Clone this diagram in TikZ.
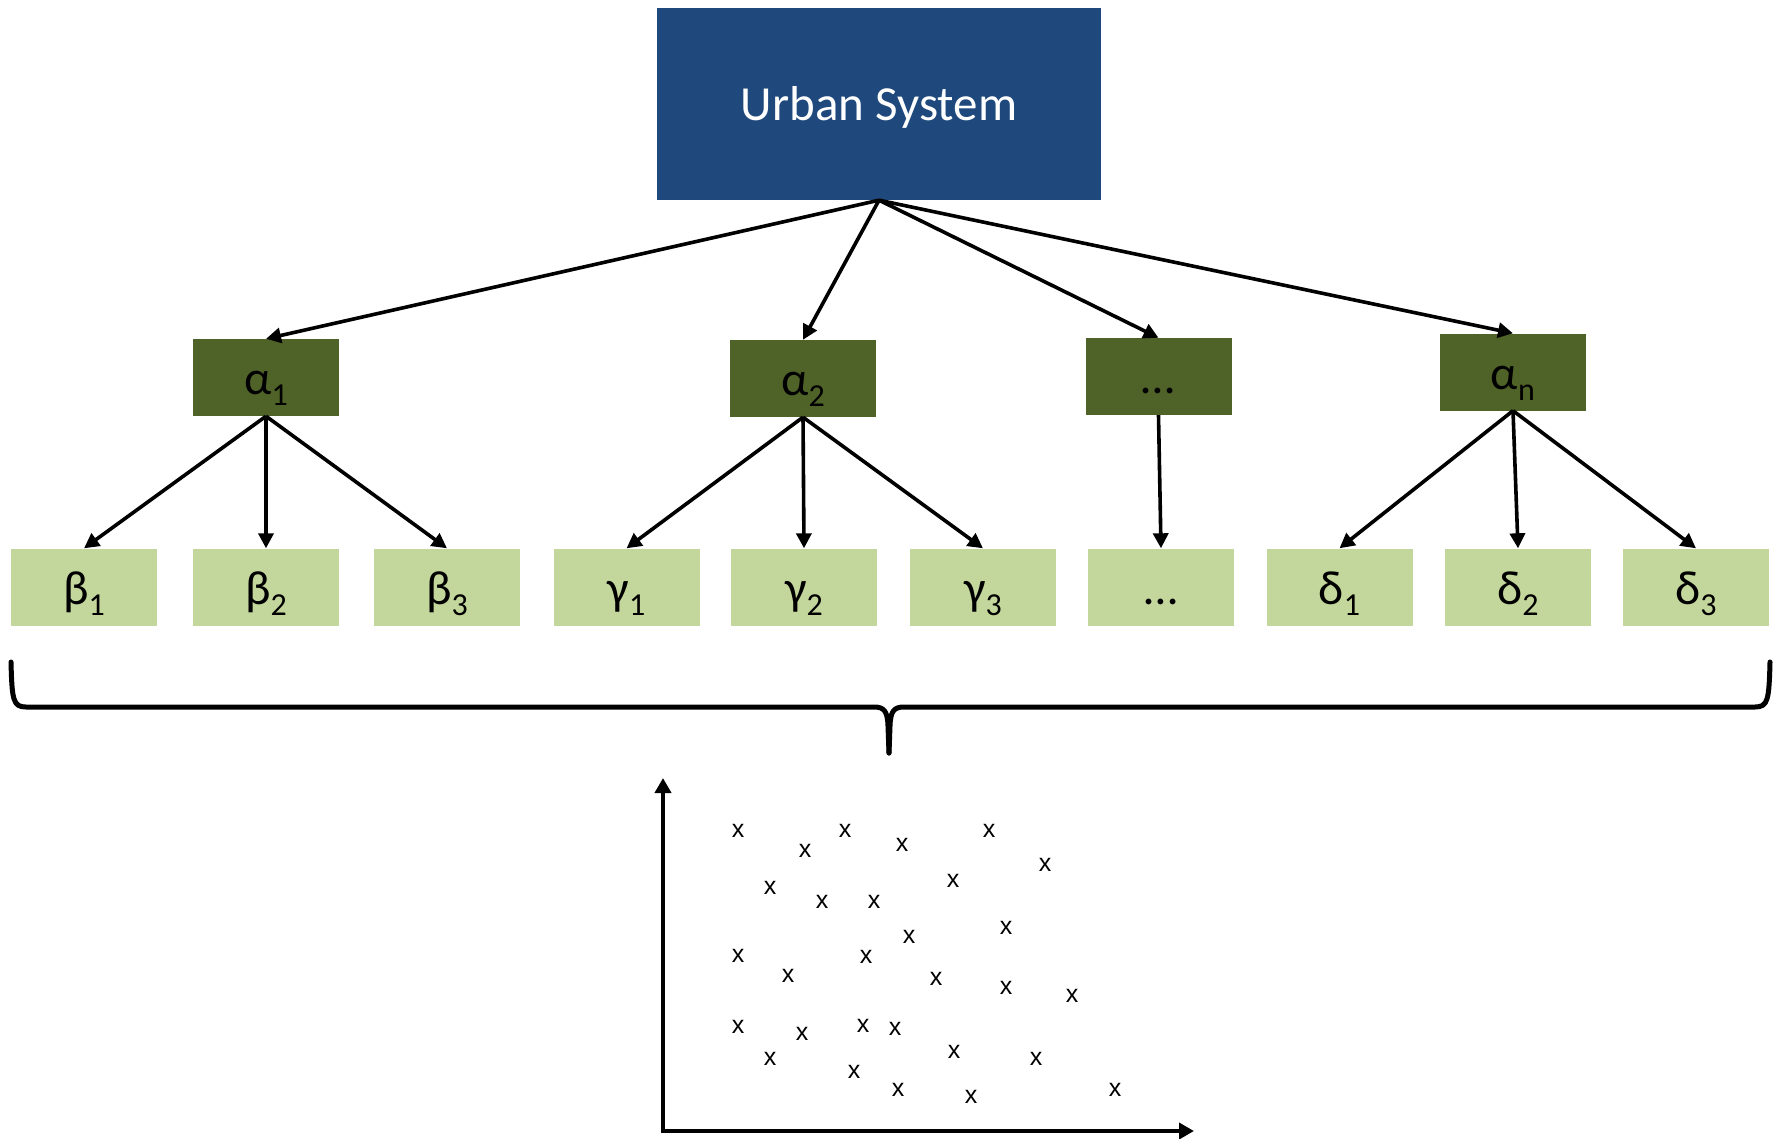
\documentclass[tikz,border=0pt]{standalone}
\usepackage{fontspec}
\setmainfont{Carlito}
\newfontfamily\arialfont{Liberation Sans}
\usetikzlibrary{arrows.meta}
\definecolor{topblue}{RGB}{31,73,125}
\definecolor{darkgreen}{RGB}{79,98,40}
\definecolor{lightgreen}{RGB}{195,214,155}
\newcommand{\sbs}[1]{\raisebox{-11pt}{\fontsize{32}{32}\selectfont #1}}
\begin{document}
\begin{tikzpicture}[x=1pt,y=-1pt,
  conn/.style={line width=3.6pt,-{Triangle[length=15pt,width=15pt]}},
  axisline/.style={line width=3.8pt,-{Triangle[length=15pt,width=16pt]}},
  bracestyle/.style={line width=5pt,line join=round,line cap=round},
  topbox/.style={fill=topblue,minimum width=444pt,minimum height=192pt,inner sep=0pt,
    text=white,font=\fontsize{49}{50}\selectfont,text height=32pt,text depth=0pt},
  levA/.style={fill=darkgreen,minimum width=146pt,minimum height=77pt,inner sep=0pt,
    text height=34pt,text depth=0pt,font=\fontsize{48}{50}\selectfont},
  levB/.style={fill=lightgreen,minimum width=146pt,minimum height=77pt,inner sep=0pt,
    text height=34pt,text depth=0pt,font=\fontsize{48}{50}\selectfont},
  xpt/.style={inner sep=0pt,font=\arialfont\fontsize{25}{25}\selectfont}
]
\useasboundingbox (0,0) rectangle (1783,1138);

% top
\node[topbox] (urban) at (879,104) {Urban System};

% level A
\node[levA] (a1) at (266,377.5) {α\sbs{1}};
\node[levA] (a2) at (803,378.5) {α\sbs{2}};
\node[levA] (a3) at (1158.5,376.5) {…};
\node[levA] (an) at (1513,372) {α\sbs{n}};

% level B
\node[levB] (b1) at (84,587) {β\sbs{1}};
\node[levB] (b2) at (266,587) {β\sbs{2}};
\node[levB] (b3) at (447,587) {β\sbs{3}};
\node[levB] (g1) at (626.5,587) {γ\sbs{1}};
\node[levB] (g2) at (804,587) {γ\sbs{2}};
\node[levB] (g3) at (983,587) {γ\sbs{3}};
\node[levB] (e1) at (1161,587) {…};
\node[levB] (d1) at (1339.5,587) {δ\sbs{1}};
\node[levB] (d2) at (1518,587) {δ\sbs{2}};
\node[levB] (d3) at (1696,587) {δ\sbs{3}};

% connectors
\draw[conn] (urban.south) -- (a1.north);
\draw[conn] (urban.south) -- (a2.north);
\draw[conn] (urban.south) -- (a3.north);
\draw[conn] (urban.south) -- (an.north);
\draw[conn] (a1.south) -- (b1.north);
\draw[conn] (a1.south) -- (b2.north);
\draw[conn] (a1.south) -- (b3.north);
\draw[conn] (a2.south) -- (g1.north);
\draw[conn] (a2.south) -- (g2.north);
\draw[conn] (a2.south) -- (g3.north);
\draw[conn] (a3.south) -- (e1.north);
\draw[conn] (an.south) -- (d1.north);
\draw[conn] (an.south) -- (d2.north);
\draw[conn] (an.south) -- (d3.north);

% brace
\draw[bracestyle] (11,662) .. controls (12,700) and (13,707) .. (26,707) -- (874,707)
  .. controls (884,707) and (887.5,711) .. (888,726) -- (889,753);
\draw[bracestyle] (1770,662) .. controls (1769,700) and (1768,707) .. (1755,707) -- (904,707)
  .. controls (894,707) and (890.5,711) .. (890,726) -- (889,753);

% axes
\coordinate (origin) at (663,1131);
\coordinate (ytop) at (663,778);
\coordinate (xend) at (1194,1131);
\draw[axisline] ([yshift=1.9pt]origin) -- (ytop);
\draw[axisline] ([xshift=-1.9pt]origin) -- (xend);

% scatter points
\foreach \px/\py [count=\i] in {738/831,805/851,845/831,902/845,989/831,
  1045/865,770/888,953/881,822/902,874/902,
  1006/928,909/937,738/956,866/957,788/976,936/979,1006/988,1072/996,
  738/1027,802/1034,863/1026,895/1029,770/1059,954/1052,1036/1059,
  854/1072,898/1090,971/1097,1115/1090}
  \node[xpt] (p\i) at (\px,\py) {x};
\end{tikzpicture}
\end{document}
